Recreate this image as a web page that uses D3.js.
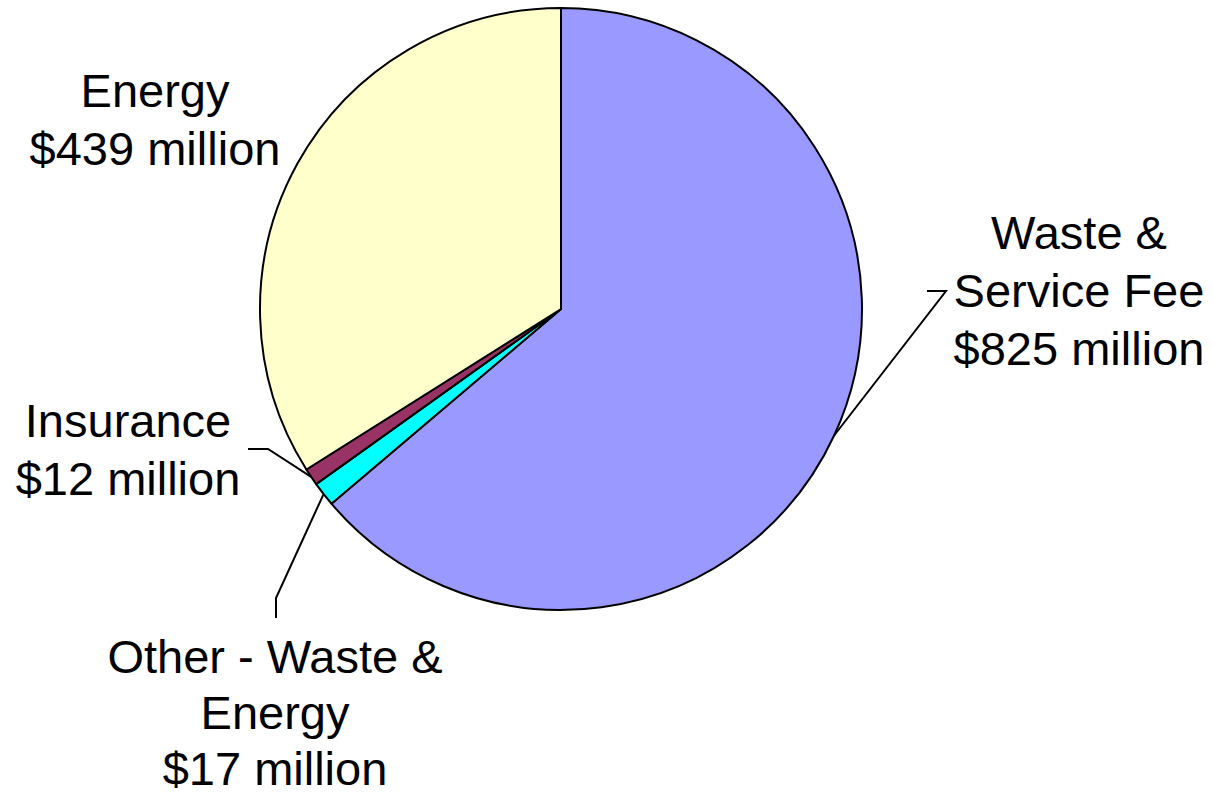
<!DOCTYPE html>
<meta charset="utf-8">
<head>
  <title>Revenue pie</title>
</head>
<style>
  body { margin: 0; background: #fff; }
  text { font-family: "Liberation Sans", Arial, sans-serif; font-size: 47px; fill: #000; }
</style>
<body>
<div id="content"></div>
<script src="https://cdnjs.cloudflare.com/ajax/libs/d3/7.8.5/d3.min.js"></script>
<script>

// data (millions of dollars)
const categories = ["Waste & Service Fee", "Other - Waste & Energy", "Insurance", "Energy"]
const values = [825, 17, 12, 439]
const labelLines = [
  ["Waste &", "Service Fee", "$825 million"],
  ["Other - Waste &", "Energy", "$17 million"],
  ["Insurance", "$12 million"],
  ["Energy", "$439 million"]
]
const colors = ["#9999ff", "#00ffff", "#993366", "#ffffcc"]

const width = 1213
const height = 795
const cx = 561, cy = 309, radius = 301

// where each label sits and the leader's elbow(s) (null = no leader)
const layout = [
  { x: 1079, y: 249, leader: [[946, 291], [927, 291]], gap: 58 },
  { x: 275, y: 673, leader: [[276, 598], [276, 618]], gap: 56 },
  { x: 128, y: 437, leader: [[268, 449], [248, 449]], gap: 58 },
  { x: 155, y: 107, leader: null, gap: 58 }
]

const svg = d3.select('#content')
  .append('svg')
    .attr('width', width)
    .attr('height', height)

const g = svg.append('g')
    .attr('transform', 'translate(' + cx + ',' + cy + ')')

const pie = d3.pie().sort(null).value(function(d) { return d })
const arcs = pie(values)

const arc = d3.arc().innerRadius(0).outerRadius(radius)
const edge = d3.arc().innerRadius(radius).outerRadius(radius)

g.selectAll('path.slice')
  .data(arcs)
  .enter()
  .append('path')
    .attr('class', 'slice')
    .attr('d', arc)
    .style('fill', function(d, i) { return colors[i] })
    .style('stroke', '#000')
    .style('stroke-width', 2)
    .style('stroke-linejoin', 'round')

// leader lines from the middle of the slice edge
const line = d3.line()
arcs.forEach(function(d, i) {
  const lay = layout[i]
  if (!lay.leader) return
  const p = edge.centroid(d)
  const pts = [[p[0] + cx, p[1] + cy]].concat(lay.leader)
  svg.append('path')
    .attr('d', line(pts))
    .style('fill', 'none')
    .style('stroke', '#000')
    .style('stroke-width', 2)
})

// labels
categories.forEach(function(c, i) {
  const t = svg.append('text')
    .attr('text-anchor', 'middle')
    .attr('x', layout[i].x)
    .attr('y', layout[i].y)
  labelLines[i].forEach(function(s, j) {
    t.append('tspan')
      .attr('x', layout[i].x)
      .attr('y', layout[i].y + j * layout[i].gap)
      .text(s)
  })
})

</script>
</body>
